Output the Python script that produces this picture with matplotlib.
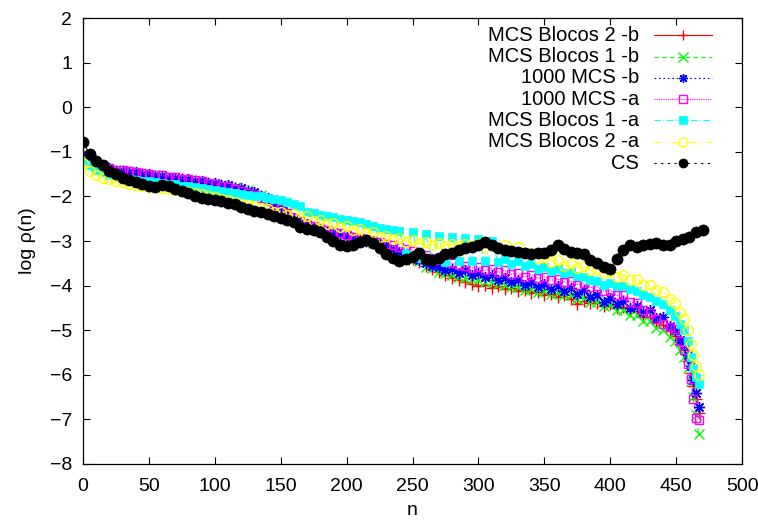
import matplotlib
matplotlib.use("Agg")
import matplotlib.pyplot as plt
from matplotlib.lines import Line2D

plt.rcParams['font.family'] = ['Liberation Sans', 'DejaVu Sans']

# n values shared by the six MCS series (denser at the steep tail)
n_mcs = list(range(0, 450, 5)) + [449, 453, 456, 459, 461, 463, 465, 467]

blocos2_b = [-1.12, -1.23, -1.30, -1.35, -1.39, -1.42, -1.44, -1.46, -1.48, -1.50,
             -1.52, -1.54, -1.56, -1.58, -1.60, -1.62, -1.64, -1.66, -1.68, -1.70,
             -1.73, -1.75, -1.78, -1.81, -1.85, -1.88, -1.93, -1.98, -2.06, -2.15,
             -2.26, -2.38, -2.50, -2.59, -2.65, -2.71, -2.75, -2.80, -2.83, -2.87,
             -2.91, -2.94, -2.97, -3.00, -3.04, -3.08, -3.13, -3.20, -3.27, -3.33,
             -3.40, -3.47, -3.55, -3.62, -3.70, -3.76, -3.82, -3.87, -3.92, -3.97,
             -4.02, -3.98, -4.05, -4.02, -4.08, -4.06, -4.12, -4.10, -4.16, -4.14,
             -4.20, -4.18, -4.25, -4.22, -4.30, -4.42, -4.35, -4.40, -4.38, -4.45,
             -4.42, -4.50, -4.48, -4.58, -4.58, -4.70, -4.70, -4.82, -4.88, -5.02,
             -5.12, -5.32, -5.45, -5.70, -5.95, -6.25, -6.55, -6.85]

blocos1_b = [-1.13, -1.22, -1.31, -1.34, -1.40, -1.41, -1.45, -1.45, -1.49, -1.49,
             -1.53, -1.53, -1.57, -1.57, -1.61, -1.61, -1.65, -1.65, -1.69, -1.69,
             -1.74, -1.74, -1.79, -1.80, -1.86, -1.86, -1.95, -1.97, -2.08, -2.14,
             -2.28, -2.37, -2.52, -2.58, -2.66, -2.70, -2.76, -2.78, -2.84, -2.86,
             -2.92, -2.93, -2.98, -2.99, -3.05, -3.06, -3.14, -3.18, -3.29, -3.31,
             -3.42, -3.44, -3.58, -3.60, -3.70, -3.72, -3.76, -3.80, -3.82, -3.86,
             -3.88, -3.91, -3.93, -3.97, -3.98, -4.03, -4.04, -4.09, -4.08, -4.14,
             -4.12, -4.18, -4.16, -4.22, -4.22, -4.30, -4.28, -4.36, -4.36, -4.46,
             -4.44, -4.54, -4.55, -4.66, -4.66, -4.80, -4.80, -4.95, -5.00, -5.15,
             -5.25, -5.45, -5.60, -5.85, -6.15, -6.50, -6.90, -7.32]

mcs1000_b = [-1.10, -1.24, -1.28, -1.36, -1.37, -1.42, -1.42, -1.46, -1.46, -1.50,
             -1.50, -1.55, -1.54, -1.58, -1.58, -1.62, -1.62, -1.66, -1.66, -1.71,
             -1.71, -1.75, -1.75, -1.81, -1.82, -1.87, -1.91, -1.99, -2.04, -2.16,
             -2.24, -2.39, -2.49, -2.59, -2.63, -2.71, -2.73, -2.79, -2.81, -2.87,
             -2.89, -2.94, -2.95, -3.00, -3.01, -3.07, -3.09, -3.19, -3.24, -3.31,
             -3.34, -3.43, -3.49, -3.56, -3.58, -3.66, -3.62, -3.72, -3.66, -3.76,
             -3.71, -3.80, -3.76, -3.87, -3.83, -3.93, -3.88, -3.99, -3.92, -4.03,
             -3.96, -4.08, -4.00, -4.12, -4.05, -4.18, -4.10, -4.26, -4.20, -4.36,
             -4.28, -4.42, -4.35, -4.50, -4.45, -4.60, -4.55, -4.72, -4.70, -4.90,
             -5.00, -5.22, -5.33, -5.56, -5.80, -6.12, -6.40, -6.72]

mcs1000_a = [-1.08, -1.20, -1.28, -1.33, -1.36, -1.40, -1.41, -1.44, -1.45, -1.48,
             -1.49, -1.52, -1.53, -1.56, -1.57, -1.60, -1.62, -1.64, -1.66, -1.69,
             -1.72, -1.76, -1.80, -1.84, -1.88, -1.92, -1.97, -2.03, -2.10, -2.18,
             -2.28, -2.38, -2.48, -2.56, -2.62, -2.67, -2.71, -2.76, -2.79, -2.83,
             -2.86, -2.90, -2.93, -2.96, -2.99, -3.03, -3.06, -3.10, -3.14, -3.18,
             -3.22, -3.27, -3.32, -3.37, -3.42, -3.46, -3.50, -3.53, -3.56, -3.60,
             -3.58, -3.66, -3.62, -3.70, -3.66, -3.75, -3.72, -3.80, -3.76, -3.84,
             -3.80, -3.88, -3.85, -3.92, -3.90, -3.98, -3.95, -4.04, -4.02, -4.12,
             -4.10, -4.22, -4.22, -4.36, -4.40, -4.55, -4.62, -4.75, -4.85, -4.92,
             -4.98, -5.25, -5.45, -5.75, -6.10, -6.55, -6.97, -7.02]

blocos1_a = [-1.18, -1.30, -1.40, -1.46, -1.52, -1.55, -1.58, -1.60, -1.63, -1.65,
             -1.66, -1.68, -1.69, -1.72, -1.72, -1.76, -1.77, -1.80, -1.82, -1.84,
             -1.86, -1.88, -1.91, -1.92, -1.95, -1.96, -1.99, -2.00, -2.03, -2.06,
             -2.08, -2.12, -2.16, -2.22, -2.34, -2.38, -2.42, -2.45, -2.47, -2.50,
             -2.52, -2.55, -2.58, -2.62, -2.66, -2.70, -2.74, -2.76, -2.78, -3.30,
             -2.80, -3.38, -2.85, -3.42, -2.88, -3.47, -2.90, -3.45, -2.93, -3.44,
             -2.96, -3.45, -3.00, -3.48, -3.40, -3.52, -3.45, -3.55, -3.52, -3.62,
             -3.58, -3.68, -3.62, -3.72, -3.70, -3.78, -3.80, -3.88, -3.90, -3.98,
             -3.95, -4.02, -4.02, -4.08, -4.12, -4.20, -4.25, -4.35, -4.42, -4.55,
             -4.68, -4.85, -5.00, -5.25, -5.60, -5.85, -6.05, -6.20]

blocos2_a = [-1.26, -1.42, -1.52, -1.58, -1.62, -1.66, -1.68, -1.72, -1.74, -1.77,
             -1.79, -1.80, -1.82, -1.84, -1.86, -1.88, -1.90, -1.93, -1.94, -1.98,
             -2.02, -2.05, -2.08, -2.12, -2.16, -2.20, -2.22, -2.27, -2.28, -2.34,
             -2.36, -2.42, -2.40, -2.48, -2.45, -2.55, -2.52, -2.62, -2.60, -2.68,
             -2.66, -2.75, -2.72, -2.82, -2.80, -2.90, -2.88, -2.96, -2.93, -3.02,
             -2.98, -3.06, -3.02, -3.10, -3.04, -3.12, -3.06, -3.12, -3.06, -3.12,
             -3.07, -3.14, -3.08, -3.16, -3.10, -3.20, -3.14, -3.28, -3.26, -3.38,
             -3.35, -3.46, -3.42, -3.55, -3.50, -3.60, -3.56, -3.66, -3.62, -3.72,
             -3.68, -3.80, -3.76, -3.88, -3.86, -3.98, -3.98, -4.10, -4.14, -4.30,
             -4.40, -4.60, -4.75, -5.00, -5.30, -5.55, -5.80, -6.00]

n_cs = list(range(0, 475, 5))
cs = [-0.78, -1.05, -1.20, -1.30, -1.42, -1.50, -1.58, -1.63, -1.67, -1.72,
      -1.77, -1.78, -1.74, -1.76, -1.84, -1.87, -1.93, -1.98, -2.03, -2.05,
      -2.07, -2.10, -2.14, -2.18, -2.24, -2.28, -2.32, -2.36, -2.40, -2.45,
      -2.49, -2.53, -2.58, -2.68, -2.72, -2.76, -2.80, -2.92, -3.00, -3.08,
      -3.12, -3.10, -3.03, -2.98, -3.05, -3.16, -3.30, -3.38, -3.45, -3.40,
      -3.36, -3.27, -3.40, -3.43, -3.38, -3.30, -3.26, -3.20, -3.15, -3.13,
      -3.10, -3.03, -3.08, -3.15, -3.20, -3.22, -3.25, -3.28, -3.30, -3.26,
      -3.27, -3.20, -3.10, -3.18, -3.25, -3.27, -3.30, -3.42, -3.50, -3.58,
      -3.62, -3.40, -3.20, -3.08, -3.14, -3.10, -3.07, -3.05, -3.08, -3.09,
      -3.00, -2.95, -2.90, -2.80, -2.75]

fig = plt.figure(figsize=(7.58, 5.25), dpi=100)
ax = fig.add_axes([0.1095, 0.1162, 0.8695, 0.8495])

# (label, x, y, color, marker, marker opts, dash pattern)
series = [
    ('MCS Blocos 2 -b', n_mcs, blocos2_b, '#ff0000', '+', dict(ms=8, mew=1.0), (None, None)),
    ('MCS Blocos 1 -b', n_mcs, blocos1_b, '#00ff00', 'x', dict(ms=6.5, mew=1.0), (0, (4, 3))),
    ('1000 MCS -b', n_mcs, mcs1000_b, '#0000ff', (8, 2, 0), dict(ms=8, mew=1.0), (0, (1.5, 2.5))),
    ('1000 MCS -a', n_mcs, mcs1000_a, '#ff00ff', 's', dict(ms=5.5, mew=1.0, mfc='none'), (0, (1, 1))),
    ('MCS Blocos 1 -a', n_mcs, blocos1_a, '#00ffff', 's', dict(ms=6, mew=0.5), (0, (6, 2, 1, 2))),
    ('MCS Blocos 2 -a', n_mcs, blocos2_a, '#ffff00', 'o', dict(ms=7, mew=1.0, mfc='none'), (0, (5, 3, 1, 3, 1, 3))),
    ('CS', n_cs, cs, 'black', 'o', dict(ms=8, mew=0.5), (0, (2, 4))),
]

for label, x, y, col, mk, mopts, dash in series:
    ls = '-' if dash[0] is None else dash
    ax.plot(x, y, color=col, marker=mk, linestyle=ls, lw=0.8, mec=col,
            **({'mfc': col} | mopts), clip_on=True)

ax.set_xlim(0, 500)
ax.set_ylim(-8, 2)
ax.set_xticks(range(0, 501, 50))
ax.set_yticks(range(-8, 3, 1))
ax.tick_params(direction='in', length=5, width=0.8, top=True, right=True,
               labelsize=14)
ax.tick_params(axis='x', pad=10)
ax.tick_params(axis='y', pad=8)
for s in ax.spines.values():
    s.set_linewidth(0.9)

ax.set_xlabel('n', fontsize=14, labelpad=5)
ax.set_ylabel('log ρ(n)', fontsize=14, labelpad=10)

# legend drawn by hand: right-aligned labels, sample line + point to the right
leg_text_x = 0.844
leg_l0, leg_l1 = 0.866, 0.954
leg_y0 = 0.961
leg_dy = 0.0477
for i, (label, x, y, col, mk, mopts, dash) in enumerate(series):
    yy = leg_y0 - i * leg_dy
    ax.text(leg_text_x, yy, label, transform=ax.transAxes, ha='right',
            va='center', fontsize=14.5)
    ls = '-' if dash[0] is None else dash
    ax.add_line(Line2D([leg_l0, leg_l1], [yy, yy], transform=ax.transAxes,
                       color=col, linestyle=ls, lw=0.8))
    mo = dict(mopts)
    mo['ms'] = min(mo['ms'], 6.5)
    ax.add_line(Line2D([(leg_l0 + leg_l1) / 2], [yy], transform=ax.transAxes,
                       color=col, marker=mk, linestyle='none', mec=col,
                       **({'mfc': col} | mo)))

fig.savefig('out.png', dpi=100)
